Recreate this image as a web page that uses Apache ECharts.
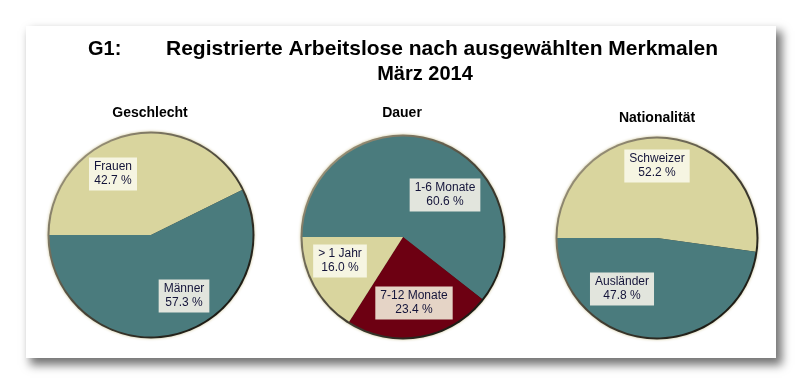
<!DOCTYPE html>
<html>
<head>
<meta charset="utf-8">
<script src="https://cdn.jsdelivr.net/npm/echarts@6/dist/echarts.min.js"></script>
<style>
  html, body { margin: 0; padding: 0; background: #ffffff; width: 802px; height: 385px; overflow: hidden; }
  #panel { position: absolute; left: 26px; top: 26px; width: 750px; height: 332px; background: #ffffff;
           box-shadow: 5px 6px 9px 1px rgba(0,0,0,0.55); }
  #chart { width: 750px; height: 332px; }
</style>
</head>
<body>
<div id="panel"><div id="chart"></div></div>
<script>
// ---- data ----
const titlePrefix = 'G1:';
const titleMain = 'Registrierte Arbeitslose nach ausgewählten Merkmalen';
const titleSub = 'März 2014';

const geschlechtTitle = 'Geschlecht';
const geschlechtCats = ['Frauen', 'Männer'];
const geschlechtVals = [42.7, 57.3];

const dauerTitle = 'Dauer';
const dauerCats = ['1-6 Monate', '7-12 Monate', '> 1 Jahr'];
const dauerVals = [60.6, 23.4, 16.0];

const natTitle = 'Nationalität';
const natCats = ['Schweizer', 'Ausländer'];
const natVals = [52.2, 47.8];

// ---- styles ----
const TEAL = '#4a7b7d', BEIGE = '#d9d59e', RED = '#6d0012';
const LBL_BG = { [TEAL]: '#e2e5dd', [BEIGE]: '#f6f5e2', [RED]: '#e5d4c6' };

const pies = [
  { cats: geschlechtCats, vals: geschlechtVals, colors: [BEIGE, TEAL], center: [125, 209], r: 102,
    labelPos: [[87, 148], [158, 270]] },
  { cats: dauerCats, vals: dauerVals, colors: [TEAL, RED, BEIGE], center: [377, 211], r: 101,
    labelPos: [[419, 169], [388, 277], [314, 235]] },
  { cats: natCats, vals: natVals, colors: [BEIGE, TEAL], center: [631, 212], r: 100,
    labelPos: [[631, 140], [596, 263]] }
];

const series = [];
pies.forEach(function (p) {
  // bevel ring behind pie
  series.push({
    type: 'pie', silent: true, center: p.center, radius: [0, p.r + 1.5],
    label: { show: false }, labelLine: { show: false }, animation: false,
    itemStyle: {
      color: new echarts.graphic.LinearGradient(0, 0, 1, 1, [
        { offset: 0, color: '#b4ab8e' }, { offset: 0.5, color: '#4a463a' }, { offset: 1, color: '#0a0a06' }
      ]),
      shadowColor: 'rgba(200,190,140,0.9)', shadowBlur: 3
    },
    data: [{ value: 1, name: '' }]
  });
  series.push({
    type: 'pie', center: p.center, radius: [0, p.r - 0.5], startAngle: 180, clockwise: true,
    animation: false, avoidLabelOverlap: false,
    itemStyle: { borderWidth: 0 },
    label: {
      show: true, position: 'inside', fontFamily: 'Liberation Sans, Arial, sans-serif', fontSize: 12,
      color: '#14143a', lineHeight: 14, padding: [3, 5, 2, 5],
      formatter: function (d) { return d.name + '\n' + d.value.toFixed(1) + ' %'; }
    },
    labelLayout: function (params) {
      const pos = p.labelPos[params.dataIndex];
      return { x: pos[0], y: pos[1], align: 'center', verticalAlign: 'middle' };
    },
    data: p.cats.map(function (c, i) {
      return { name: c, value: p.vals[i], itemStyle: { color: p.colors[i] },
               label: { backgroundColor: LBL_BG[p.colors[i]] } };
    })
  });
});

const FONT = 'Liberation Sans, Arial, sans-serif';
function txt(x, y, s, size, align) {
  return { type: 'text', x: x, y: y, silent: true,
    style: { text: s, font: 'bold ' + size + 'px ' + FONT, fill: '#000', align: align || 'center', verticalAlign: 'middle' } };
}

const chart = echarts.init(document.getElementById('chart'), null, { renderer: 'canvas' });
chart.setOption({
  backgroundColor: '#ffffff',
  animation: false,
  graphic: [
    txt(62, 23, titlePrefix, 20, 'left'),
    txt(416, 23, titleMain, 21),
    txt(399, 48, titleSub, 20),
    txt(124, 87, geschlechtTitle, 14),
    txt(376, 87, dauerTitle, 14),
    txt(631, 92, natTitle, 14)
  ],
  series: series
});
</script>
</body>
</html>
